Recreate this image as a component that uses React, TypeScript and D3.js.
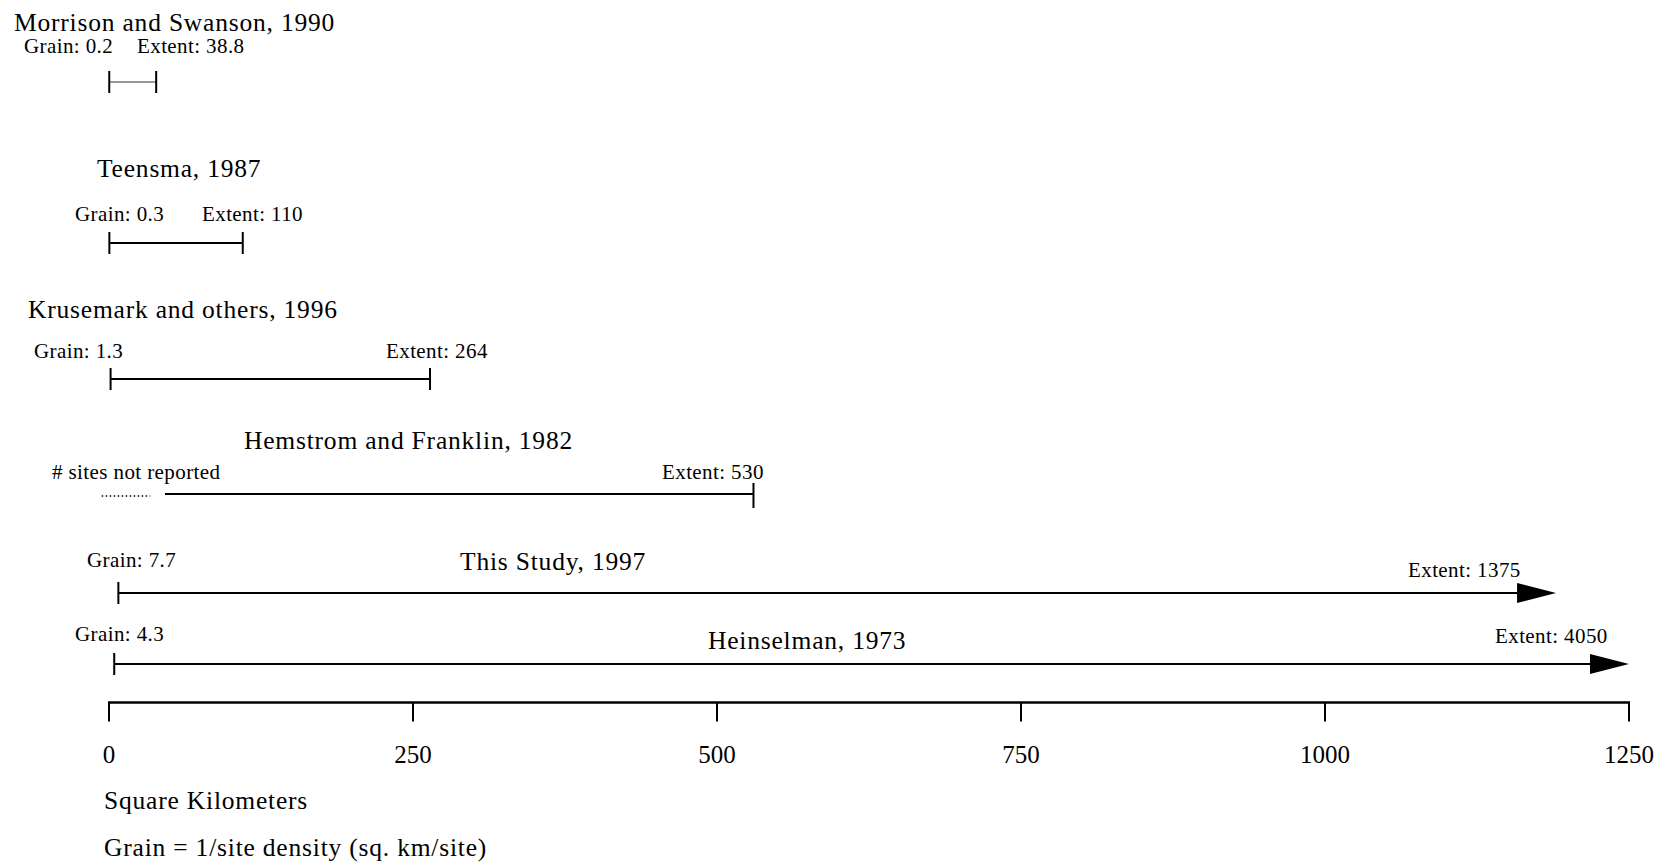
import React from "react";
import * as d3 from "d3";

// ---- data ----
const studies = [
  "Morrison and Swanson, 1990",
  "Teensma, 1987",
  "Krusemark and others, 1996",
  "Hemstrom and Franklin, 1982",
  "This Study, 1997",
  "Heinselman, 1973",
];
const grains: (number | null)[] = [0.2, 0.3, 1.3, null, 7.7, 4.3];
const extents = [38.8, 110, 264, 530, 1375, 4050];
// extents beyond the axis are drawn as arrows ending at these values (sq km)
const arrowEnds: (number | null)[] = [null, null, null, null, 1190, 1250];
// Hemstrom & Franklin: grain unknown -> dotted span, solid span starts later
const unreportedSpan = [-6, 34];
const unreportedSolidStart = 46;
const axisTicks = [0, 250, 500, 750, 1000, 1250];
const axisTitle = "Square Kilometers";
const footNote = "Grain = 1/site density (sq. km/site)";
const unreportedLabel = "# sites not reported";

// ---- layout ----
const W = 1659;
const H = 866;
const rowY = [82, 243, 379, 494, 593, 664];
const titlePos = [
  [14, 31],
  [97, 177],
  [28, 318],
  [244, 449],
  [460, 570],
  [708, 649],
];
const grainPos = [
  [24, 53],
  [75, 221],
  [34, 358],
  [52, 479],
  [87, 567],
  [75, 641],
];
const extentPos = [
  [137, 53],
  [202, 221],
  [386, 358],
  [662, 479],
  [1408, 577],
  [1495, 643],
];
const axisY = 702.5;
const FONT = "'Liberation Serif', 'Times New Roman', Times, serif";

export default function App() {
  const x = d3.scaleLinear().domain([0, 1250]).range([109, 1629]);

  const titleStyle: React.CSSProperties = {
    fontFamily: FONT,
    fontSize: 25.5,
    letterSpacing: 0.8,
  };
  const smallStyle: React.CSSProperties = {
    fontFamily: FONT,
    fontSize: 21,
    letterSpacing: 0.4,
  };

  return (
    <svg
      width={W}
      height={H}
      style={{ position: "absolute", left: 0, top: 0, background: "#fff" }}
    >
      {studies.map((name, i) => {
        const y = rowY[i];
        const g = grains[i];
        const arrowEnd = arrowEnds[i];
        const x0 = g == null ? x(unreportedSolidStart) : x(g);
        const x1 = arrowEnd != null ? x(arrowEnd) : x(extents[i]);
        const thin = i === 0;
        return (
          <g key={name}>
            <text x={titlePos[i][0]} y={titlePos[i][1]} style={titleStyle} fill="#000">
              {name}
            </text>
            <text x={grainPos[i][0]} y={grainPos[i][1]} style={smallStyle} fill="#000">
              {g == null ? unreportedLabel : `Grain: ${g}`}
            </text>
            <text x={extentPos[i][0]} y={extentPos[i][1]} style={smallStyle} fill="#000">
              {`Extent: ${extents[i]}`}
            </text>
            {g == null && (
              <line
                x1={x(unreportedSpan[0])}
                x2={x(unreportedSpan[1])}
                y1={y + 2}
                y2={y + 2}
                stroke="#000"
                strokeWidth={1.6}
                strokeDasharray="1.5 2.5"
              />
            )}
            <line
              x1={x0}
              x2={arrowEnd != null ? x1 - 30 : x1}
              y1={y}
              y2={y}
              stroke={thin ? "#333" : "#000"}
              strokeWidth={thin ? 1.2 : 2}
            />
            {g != null && (
              <line x1={x0} x2={x0} y1={y - 11} y2={y + 11} stroke="#000" strokeWidth={2} />
            )}
            {arrowEnd == null ? (
              <line
                x1={x1}
                x2={x1}
                y1={y - 11}
                y2={g == null ? y + 14 : y + 11}
                stroke="#000"
                strokeWidth={2}
              />
            ) : (
              <path
                d={`M${x1},${y} L${x1 - 39},${y - 10} L${x1 - 39},${y + 10} Z`}
                fill="#000"
              />
            )}
          </g>
        );
      })}

      {/* axis */}
      <line
        x1={x(axisTicks[0]) - 1}
        x2={x(axisTicks[axisTicks.length - 1]) + 1}
        y1={axisY}
        y2={axisY}
        stroke="#000"
        strokeWidth={2.5}
      />
      {axisTicks.map((t) => (
        <g key={t}>
          <line x1={x(t)} x2={x(t)} y1={axisY} y2={axisY + 19} stroke="#000" strokeWidth={2} />
          <text
            x={x(t)}
            y={763}
            textAnchor="middle"
            style={{ fontFamily: FONT, fontSize: 25 }}
            fill="#000"
          >
            {t}
          </text>
        </g>
      ))}
      <text x={104} y={809} style={titleStyle} fill="#000">
        {axisTitle}
      </text>
      <text x={104} y={856} style={titleStyle} fill="#000">
        {footNote}
      </text>
    </svg>
  );
}
